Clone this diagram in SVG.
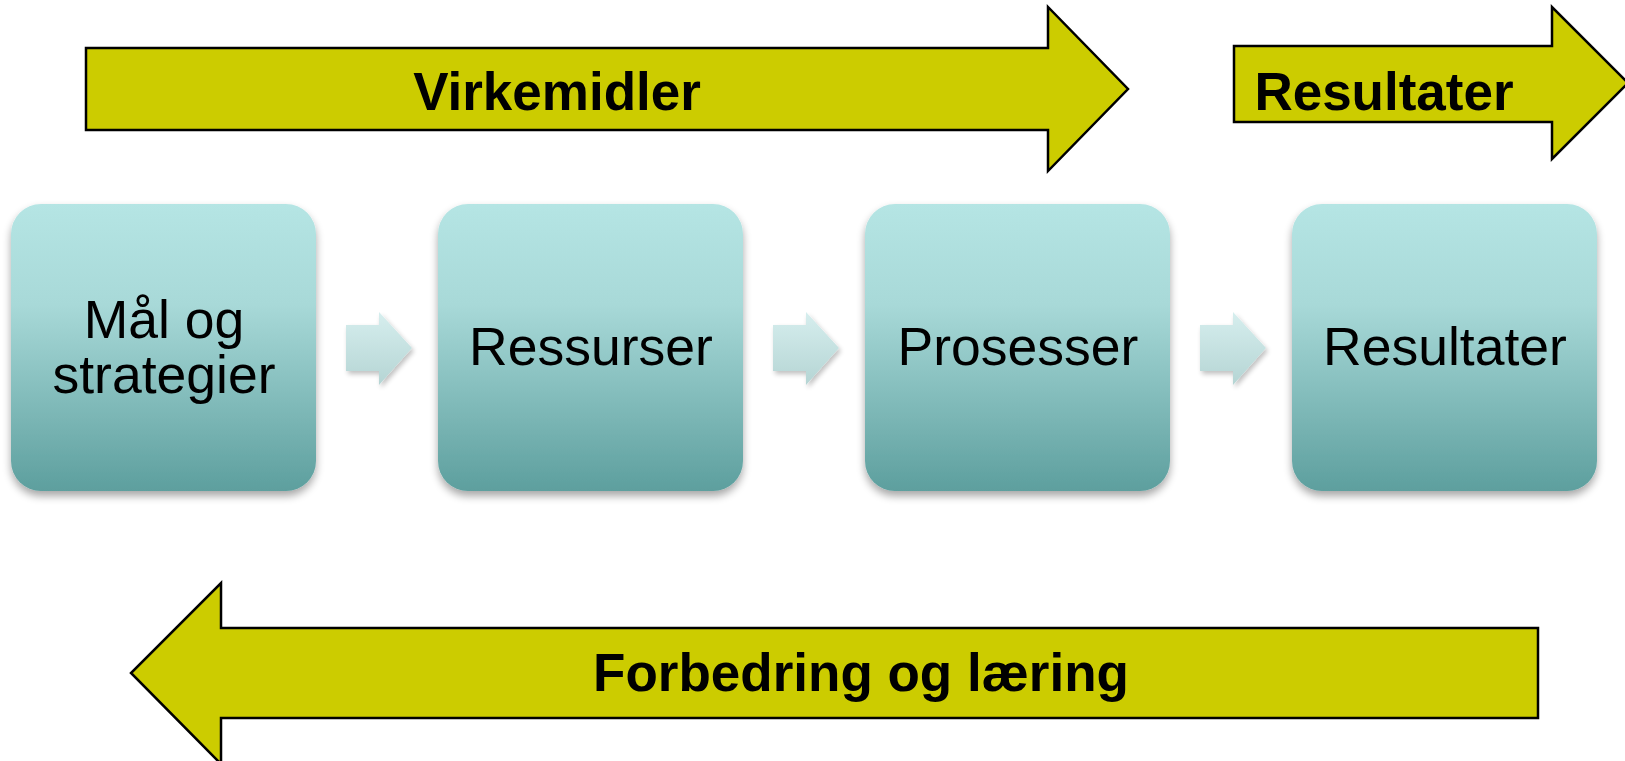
<svg xmlns="http://www.w3.org/2000/svg" width="1625" height="761" viewBox="0 0 1625 761">
<defs>
<linearGradient id="boxg" x1="0" y1="0" x2="0" y2="1">
<stop offset="0" stop-color="#b5e5e4"/>
<stop offset="0.35" stop-color="#a8d9d8"/>
<stop offset="1" stop-color="#5d9f9e"/>
</linearGradient>
<linearGradient id="arrg" x1="0" y1="0" x2="0" y2="1">
<stop offset="0" stop-color="#d6eeee"/>
<stop offset="1" stop-color="#b5d5d4"/>
</linearGradient>
<filter id="sh" x="-10%" y="-10%" width="120%" height="125%">
<feGaussianBlur in="SourceAlpha" stdDeviation="4"/>
<feOffset dx="0" dy="5"/>
<feComponentTransfer><feFuncA type="linear" slope="0.35"/></feComponentTransfer>
<feMerge><feMergeNode/><feMergeNode in="SourceGraphic"/></feMerge>
</filter>
<filter id="sh2" x="-20%" y="-20%" width="150%" height="150%">
<feGaussianBlur in="SourceAlpha" stdDeviation="2.5"/>
<feOffset dx="2" dy="3"/>
<feComponentTransfer><feFuncA type="linear" slope="0.25"/></feComponentTransfer>
<feMerge><feMergeNode/><feMergeNode in="SourceGraphic"/></feMerge>
</filter>
</defs>
<style>
.big{fill:#cccc00;stroke:#000;stroke-width:2.5;stroke-linejoin:miter}
.box{fill:url(#boxg);filter:url(#sh)}
.sm{fill:url(#arrg);filter:url(#sh2)}
.bl{font-family:"Liberation Sans",Arial,sans-serif;font-weight:bold;font-size:53px;fill:#000;text-anchor:middle}
.nl{font-family:"Liberation Sans",Arial,sans-serif;font-size:53.5px;fill:#000;text-anchor:middle}
</style>
<g id="virkemidler">
<polygon class="big" points="86,48 1048,48 1048,7 1128,89 1048,171 1048,130 86,130"/>
<text class="bl" x="557" y="110">Virkemidler</text>
</g>
<g id="resultater-arrow">
<polygon class="big" points="1234,46 1552,46 1552,7 1628,83 1552,159 1552,122 1234,122"/>
<text class="bl" x="1384" y="110">Resultater</text>
</g>
<g id="forbedring">
<polygon class="big" points="1538,628 221,628 221,583 131,673 221,764 221,718 1538,718"/>
<text class="bl" x="861" y="691">Forbedring og læring</text>
</g>
<g id="connectors">
<polygon class="sm" points="346,325 379,325 379,312 412,348 379,385 379,371 346,371"/>
<polygon class="sm" points="773,325 806,325 806,312 839,348 806,385 806,371 773,371"/>
<polygon class="sm" points="1200,325 1233,325 1233,312 1266,348 1233,385 1233,371 1200,371"/>
</g>
<g id="mal">
<rect class="box" x="11" y="204" width="305" height="287" rx="30"/>
<text class="nl" x="164" y="338">Mål og</text>
<text class="nl" x="164" y="393">strategier</text>
</g>
<g id="ressurser">
<rect class="box" x="438" y="204" width="305" height="287" rx="30"/>
<text class="nl" x="591" y="365">Ressurser</text>
</g>
<g id="prosesser">
<rect class="box" x="865" y="204" width="305" height="287" rx="30"/>
<text class="nl" x="1018" y="365">Prosesser</text>
</g>
<g id="resultater">
<rect class="box" x="1292" y="204" width="305" height="287" rx="30"/>
<text class="nl" x="1445" y="365">Resultater</text>
</g>
</svg>
